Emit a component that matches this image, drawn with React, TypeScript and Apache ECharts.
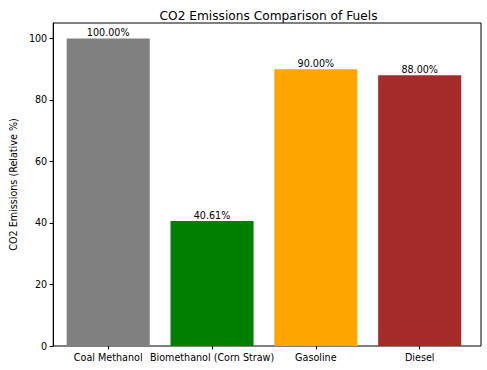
import React, { useEffect, useRef } from "react";
import * as echarts from "echarts";

const categories = ["Coal Methanol", "Biomethanol (Corn Straw)", "Gasoline", "Diesel"];
const values = [100, 40.61, 90, 88];
const colors = ["#808080", "#008000", "#FFA500", "#A52A2A"];
const yTicks = [0, 20, 40, 60, 80, 100];

export default function App() {
  const ref = useRef<HTMLDivElement>(null);
  useEffect(() => {
    if (!ref.current) return;
    const chart = echarts.init(ref.current, null, { renderer: "svg" });
    const font = "DejaVu Sans";
    const fs = 9.6;
    chart.setOption({
      animation: false,
      title: {
        text: "CO2 Emissions Comparison of Fuels",
        left: 263.5,
        top: 5,
        textAlign: "center",
        textStyle: { fontFamily: font, fontSize: 12.2, fontWeight: "normal", color: "#000" },
      },
      grid: [
        { left: 47, right: 6, top: 23, bottom: 24, show: true, borderColor: "#000", borderWidth: 1 },
        { left: 56.3, right: 15.4, top: 23, bottom: 24 },
      ],
      xAxis: [
        {
          gridIndex: 0,
          type: "value",
          min: 0,
          max: 1,
          show: false,
        },
        {
          gridIndex: 1,
          type: "category",
          data: categories,
          axisLine: { show: false },
          axisTick: { show: true, alignWithLabel: true, length: 3.5, lineStyle: { color: "#000" } },
          axisLabel: { fontFamily: font, fontSize: fs, color: "#000", margin: 6, interval: 0 },
        },
      ],
      yAxis: [
        {
          gridIndex: 0,
          type: "value",
          min: 0,
          max: 105,
          name: "CO2 Emissions (Relative %)",
          nameLocation: "middle",
          nameGap: 30,
          nameTextStyle: { fontFamily: font, fontSize: fs, color: "#000" },
          splitLine: { show: false },
          axisLine: { show: true, lineStyle: { color: "#000" } },
          axisTick: { show: true, customValues: yTicks, length: 3.5, lineStyle: { color: "#000" } },
          axisLabel: { customValues: yTicks, fontFamily: font, fontSize: fs, color: "#000", margin: 6 },
        },
        {
          gridIndex: 1,
          type: "value",
          min: 0,
          max: 105,
          show: false,
        },
      ],
      series: [
        {
          type: "bar",
          xAxisIndex: 1,
          yAxisIndex: 1,
          barWidth: "80%",
          data: values.map((v, i) => ({ value: v, itemStyle: { color: colors[i] } })),
          label: {
            show: true,
            position: "top",
            distance: 1,
            formatter: (p: any) => Number(p.value).toFixed(2) + "%",
            fontFamily: font,
            fontSize: fs,
            color: "#000",
          },
        },
      ],
    });
    return () => chart.dispose();
  }, []);
  return <div ref={ref} style={{ width: 487, height: 370, position: "absolute", left: 0, top: 0 }} />;
}
